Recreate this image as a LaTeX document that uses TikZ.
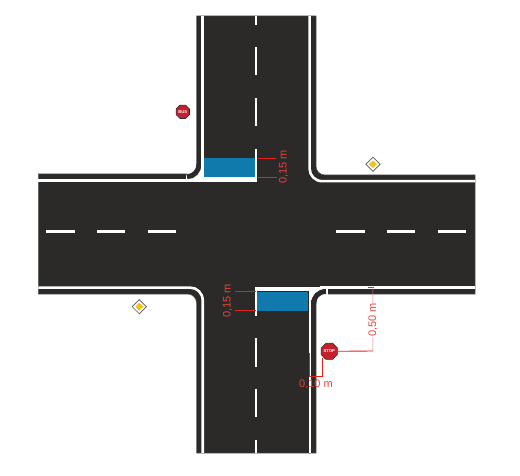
\documentclass[tikz,border=0pt]{standalone}
\usepackage{fontspec}
\setmainfont{Liberation Sans}
\usetikzlibrary{shapes.geometric}
\definecolor{asphalt}{HTML}{2B2A29}
\definecolor{bluezone}{HTML}{0F7AAB}
\definecolor{dimred}{HTML}{E2231A}
\definecolor{signred}{HTML}{C4202E}
\definecolor{signyellow}{HTML}{F0C419}
\tikzset{
  roadedge/.style={draw=asphalt!75!white,line width=.5pt,fill=asphalt},
  band/.style={draw=asphalt,line width=5pt},
  whiteline/.style={draw=white,line width=2.6pt},
  dashline/.style={draw=white,line width=2.7pt},
  zone/.style={fill=bluezone},
  dimline/.style={draw=dimred,line width=.9pt},
  dimfaint/.style={draw=dimred!60!white,line width=.5pt},
  dimtext/.style={text=dimred!85!white,font=\fontsize{11}{11}\selectfont,inner sep=0pt},
  octsign/.style={regular polygon,regular polygon sides=8,minimum size=14.5pt,inner sep=0pt,fill=signred,draw=asphalt,line width=.6pt,text=white,font=\fontsize{4.2}{5}\selectfont\bfseries},
  prio/.style={diamond,minimum size=14.5pt,inner sep=0pt,fill=white,draw=asphalt!80!white,line width=.7pt},
  priocore/.style={diamond,minimum size=8pt,inner sep=0pt,fill=signyellow}
}
\begin{document}
\begin{tikzpicture}[x=1pt,y=-1pt]
\useasboundingbox (0,0) rectangle (520,476);
% road surface with outer edge of the bands
\path[roadedge] (196.5,16) -- (196.5,165) .. controls (196.5,170) and (192.5,174) .. (187.5,174) -- (38.3,174)
  -- (38.3,294) -- (187.5,294) .. controls (192.5,294) and (196.5,298) .. (196.5,303) -- (196.5,453)
  -- (316,453) -- (316,303) .. controls (316,298) and (320,294) .. (325,294) -- (475,294)
  -- (475,175) -- (325,175) .. controls (320,175) and (316,171) .. (316,166) -- (316,16) -- cycle;
% square corners (top left, bottom right)
\fill[white] (190,166) -- (201.5,166) -- (204,170) -- (204,182) -- (186,182) -- (186,176) -- cycle;
\fill[white] (309,286.5) rectangle (328,300);
\draw[band] (199,164) .. controls (199,171) and (194,176.7) .. (187,176.7);
\draw[band] (313.5,304) .. controls (313.5,297) and (318.5,291.5) .. (326,291.5);
% white edge lines
\draw[whiteline] (202.7,16) -- (202.7,170);
\draw[whiteline] (38.3,180.8) -- (204,180.8);
\draw[whiteline] (38.3,287.6) -- (190,287.6) .. controls (197,287.6) and (202.7,293) .. (202.7,300.3) -- (202.7,453);
\draw[whiteline] (309.6,16) -- (309.6,168.5) .. controls (309.6,175.5) and (315,181.2) .. (322.3,181.2) -- (475,181.2);
\draw[whiteline] (310,290) -- (310,453);
\draw[whiteline] (320,287.6) -- (475,287.6);
% stop lines and blue zones
\fill[white] (204,177) rectangle (257.3,182);
\fill[white] (254.7,286.7) rectangle (325,289.2);
\fill[white] (254.7,286.7) rectangle (311,291);
\fill[zone] (204,158.3) rectangle (255,176.8) coordinate (zoneA);
\fill[zone] (257.3,291.6) rectangle (308.4,310.8) coordinate (zoneB);
% centre dashes
\draw[dashline] (256,16) -- (256,25);
\draw[dashline] (256,47.3) -- (256,75.3);
\draw[dashline] (256,98.3) -- (256,126);
\draw[dashline] (256,149.3) -- (256,181.7);
\draw[dashline] (256,286.7) -- (256,315.7);
\draw[dashline] (256,338) -- (256,366.7);
\draw[dashline] (256,388.5) -- (256,416.7);
\draw[dashline] (256,440) -- (256,453);
\draw[dashline] (46,231.3) -- (74.5,231.3);
\draw[dashline] (97,231.3) -- (125,231.3);
\draw[dashline] (148,231.3) -- (176,231.3);
\draw[dashline] (336.3,231.3) -- (364.7,231.3);
\draw[dashline] (387,231.3) -- (415.3,231.3);
\draw[dashline] (438,231.3) -- (466,231.3);
% signs
\node[octsign] (bus) at (182.8,111.8) {BUS};
\node[octsign] (stop) at (329.3,351.3) {STOP};
\node[prio] (prioA) at (373,164.3) {};
\node[priocore] at (prioA) {};
\node[prio] (prioB) at (139.3,306.7) {};
\node[priocore] at (prioB) {};
% dimension 0,15 m top
\coordinate (a1) at (257.5,158.4);
\coordinate (a2) at (257.5,177.3);
\coordinate (a3) at (276.5,158.4);
\coordinate (a4) at (276.5,177.3);
\draw[dimline] (a1) -- (a3);
\draw[dimline] (a2) -- (a4);
\draw[draw=asphalt,line width=.5pt] (a3) -- (a4);
\node[dimtext,rotate=90] (dimA) at (283.6,167) {0,15 m};
% dimension 0,15 m bottom
\coordinate (b1) at (256,291.7);
\coordinate (b2) at (256,310);
\coordinate (b3) at (234.5,291.7);
\coordinate (b4) at (234.5,310);
\draw[dimline] (b1) -- (b3);
\draw[dimline] (b2) -- (b4);
\draw[draw=asphalt,line width=.5pt] (b3) -- (b4);
\node[dimtext,rotate=90] (dimB) at (227.5,301) {0,15 m};
% dimension 0,50 m
\node[dimtext,rotate=90] (dimC) at (373,320) {0,50 m};
\coordinate (c1) at (368.3,287.2);
\coordinate (c2) at (374.3,287.2);
\coordinate (c3) at (372.8,287.2);
\coordinate (c4) at (372.8,351);
\draw[dimline] (c1) -- (c2);
\draw[dimfaint] (c3) -- (dimC.east);
\draw[dimfaint] (dimC.west) -- (c4);
\draw[dimline] (stop.east) -- (c4);
% dimension 0,10 m
\coordinate (d1) at (309.3,353);
\coordinate (d2) at (309.3,376.6);
\coordinate (d3) at (322.3,357.5);
\coordinate (d4) at (322.3,376.6);
\draw[dimline] (d1) -- (d2) -- (d4) -- (d3);
\node[dimtext] (dimD) at (316,384.3) {0,10 m};
\end{tikzpicture}
\end{document}
